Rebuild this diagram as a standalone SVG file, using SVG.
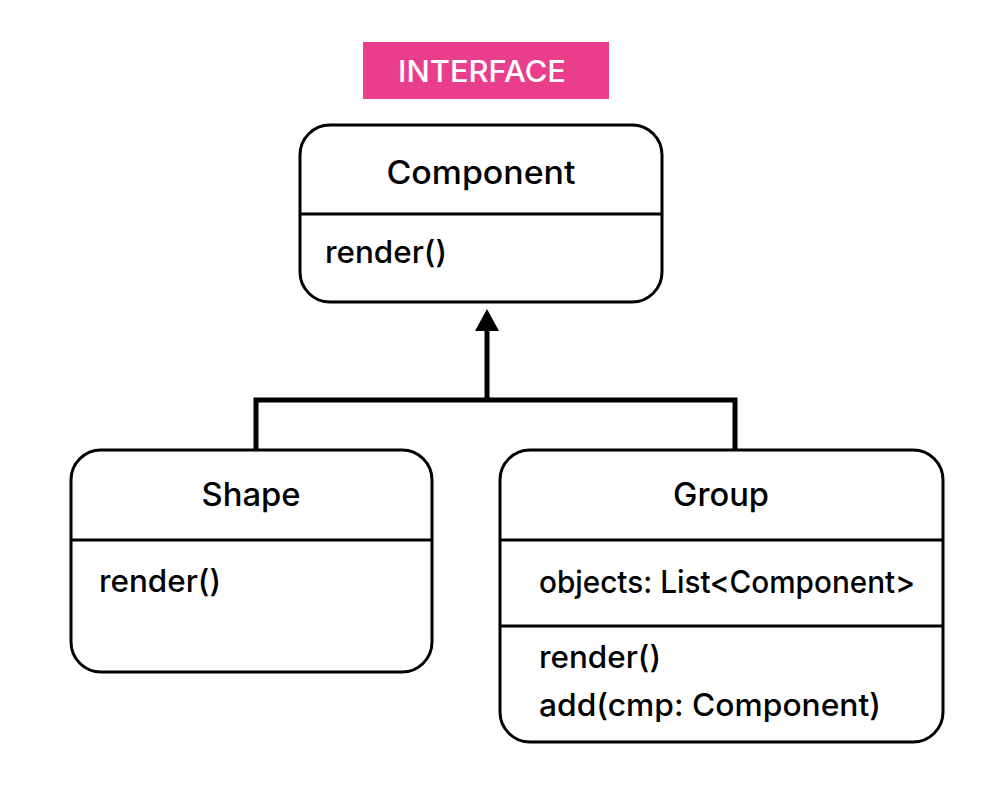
<svg xmlns="http://www.w3.org/2000/svg" width="1007" height="802" viewBox="0 0 1007 802">
<style>
.box{fill:#fff;stroke:#000;stroke-width:3}
.div{stroke:#000;stroke-width:3}
.t{font-family:Inter,"Noto Sans",sans-serif;font-size:31px;font-weight:500;fill:#000}
.title{font-family:Inter,"Noto Sans",sans-serif;font-size:32px;font-weight:500;fill:#000;text-anchor:middle}
.conn{fill:none;stroke:#000;stroke-width:5}
</style>
<rect width="1007" height="802" fill="#fff"/>
<g id="label-interface">
<rect x="363" y="42" width="246" height="57" fill="#E83E8C"/>
<text x="482" y="82" font-family="Inter,'Noto Sans',sans-serif" font-size="30" font-weight="500" fill="#fff" text-anchor="middle" textLength="168" lengthAdjust="spacingAndGlyphs">INTERFACE</text>
</g>
<g id="component">
<rect class="box" x="300" y="125" width="362" height="177" rx="30"/>
<line class="div" x1="300" y1="214" x2="662" y2="214"/>
<text class="title" x="481" y="184" textLength="189" lengthAdjust="spacingAndGlyphs">Component</text>
<text class="t" x="325" y="263" textLength="122" lengthAdjust="spacingAndGlyphs">render()</text>
</g>
<g id="connectors">
<polyline class="conn" points="256,450 256,400 735,400 735,450"/>
<line class="conn" x1="487" y1="400" x2="487" y2="328"/>
<polygon points="487,309 475,331 499,331" fill="#000"/>
</g>
<g id="shape">
<rect class="box" x="71" y="450" width="361" height="222" rx="30"/>
<line class="div" x1="71" y1="540" x2="432" y2="540"/>
<text class="title" x="251" y="506" textLength="99" lengthAdjust="spacingAndGlyphs">Shape</text>
<text class="t" x="99" y="592" textLength="122" lengthAdjust="spacingAndGlyphs">render()</text>
</g>
<g id="group">
<rect class="box" x="500" y="450" width="443" height="292" rx="30"/>
<line class="div" x1="500" y1="540" x2="943" y2="540"/>
<line class="div" x1="500" y1="626" x2="943" y2="626"/>
<text class="title" x="721" y="506" textLength="96" lengthAdjust="spacingAndGlyphs">Group</text>
<text class="t" x="539" y="593" textLength="376" lengthAdjust="spacingAndGlyphs">objects: List&lt;Component&gt;</text>
<text class="t" x="539" y="668" textLength="122" lengthAdjust="spacingAndGlyphs">render()</text>
<text class="t" x="539" y="716" textLength="342" lengthAdjust="spacingAndGlyphs">add(cmp: Component)</text>
</g>
</svg>
